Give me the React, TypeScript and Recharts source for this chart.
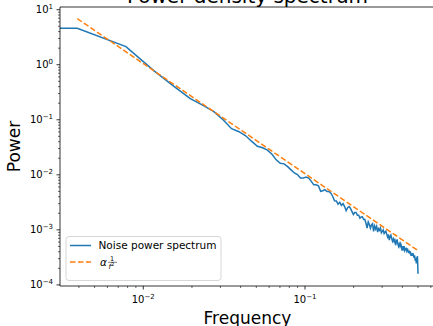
import React from "react";
import { LineChart, Line, XAxis, YAxis, ReferenceLine } from "recharts";

const FONT = "'DejaVu Sans', sans-serif";
const BLUE = "#1f77b4";
const ORANGE = "#ff7f0e";

// FFT bins k/256 (k = 1..128). The DC bin (f = 0) has no place on a log axis;
// matplotlib clips it far off to the left, a tiny stand-in frequency does the same here.
const DC_FREQ = 1e-4;
const binIndex = Array.from({ length: 128 }, (_, i) => i + 1);
const spectrumFreq = [DC_FREQ, ...binIndex.map((k) => k / 256)];
const spectrumPower = [
  4.59, 4.59, 2.13, 0.765, 0.396, 0.243, 0.183, 0.14, 0.0989, 0.0689,
  0.0607, 0.0512, 0.0404, 0.033, 0.031, 0.0281, 0.0237, 0.0187, 0.0162, 0.0158,
  0.0141, 0.0123, 0.0108, 0.0101, 0.00874, 0.00871, 0.00909, 0.00872, 0.00759, 0.00658,
  0.00658, 0.00632, 0.00501, 0.00513, 0.00536, 0.00496, 0.00499, 0.00463, 0.00404, 0.00337,
  0.00335, 0.00293, 0.00316, 0.00278, 0.003, 0.00265, 0.00223, 0.00253, 0.00264, 0.00243,
  0.00214, 0.0019, 0.00206, 0.00207, 0.00184, 0.00184, 0.00163, 0.00172, 0.00173, 0.00154,
  0.00155, 0.00132, 0.00108, 0.0014, 0.00125, 0.00107, 0.00123, 0.00129, 0.000942, 0.00118,
  0.00104, 0.00116, 0.000912, 0.00105, 0.00098, 0.00108, 0.000888, 0.000941, 0.000997, 0.000856,
  0.000914, 0.000946, 0.000827, 0.000745, 0.000825, 0.000653, 0.000754, 0.000802, 0.000692, 0.000622,
  0.000689, 0.00062, 0.000688, 0.000525, 0.000606, 0.000672, 0.000557, 0.000501, 0.000557, 0.000503,
  0.000558, 0.000504, 0.000418, 0.000505, 0.000455, 0.000506, 0.00042, 0.000448, 0.000459, 0.000415,
  0.000461, 0.000416, 0.000377, 0.000419, 0.000379, 0.000388, 0.000337, 0.000375, 0.000339, 0.000378,
  0.000342, 0.00031, 0.000345, 0.000276, 0.000307, 0.000245, 0.00031, 0.000332, 0.00016,
];

// alpha / f^2 reference: a straight line in log-log, so its two ends are enough
const fitFreq = [1 / 256, 0.5];
const fitPower = [6.88, 0.00042];

const xMajor = [0.01, 0.1];
const yMajor = [1e-4, 1e-3, 1e-2, 1e-1, 1, 10];
const mantissas = [2, 3, 4, 5, 6, 7, 8, 9];

const xDomain = [0.003055, 0.6368];
const yDomain = [9.55e-5, 11.19];

const inside = (v: number, d: number[]) => v >= d[0] && v <= d[1];
const minorsFor = (decades: number[], d: number[]) =>
  decades.flatMap((dec) => mantissas.map((m) => m * dec)).filter((v) => inside(v, d));

const xTicks = [...xMajor, ...minorsFor([1e-3, 1e-2, 1e-1], xDomain)].sort((a, b) => a - b);
const yTicks = [...yMajor, ...minorsFor([1e-5, 1e-4, 1e-3, 1e-2, 1e-1, 1], yDomain)].sort((a, b) => a - b);

const spectrum = spectrumFreq.map((f, i) => ({ f, p: spectrumPower[i] }));
const fit = fitFreq.map((f, i) => ({ f, p: fitPower[i] }));

const isMajor = (v: number) => Math.abs(Math.log10(v) - Math.round(Math.log10(v))) < 1e-6;
const expText = (v: number) => String(Math.round(Math.log10(v))).replace("-", "\u2212");

const XTick = ({ x, y, payload }: any) => {
  const v = payload.value;
  const major = isMajor(v);
  return (
    <g>
      <line x1={x} x2={x} y1={y} y2={y + (major ? 3.5 : 2)} stroke="#000" strokeWidth={major ? 0.8 : 0.6} />
      {major && (
        <text x={x} y={y + 17} textAnchor="middle" fontSize={10} fontFamily={FONT} fill="#000">
          10<tspan dy={-4} fontSize={7}>{expText(v)}</tspan>
        </text>
      )}
    </g>
  );
};

const YTick = ({ x, y, payload }: any) => {
  const v = payload.value;
  const major = isMajor(v);
  return (
    <g>
      <line x1={x - (major ? 3.5 : 2)} x2={x} y1={y} y2={y} stroke="#000" strokeWidth={major ? 0.8 : 0.6} />
      {major && (
        <text x={x - 7} y={y + 3.6} textAnchor="end" fontSize={10} fontFamily={FONT} fill="#000">
          10<tspan dy={-4.3} fontSize={7}>{expText(v)}</tspan>
        </text>
      )}
    </g>
  );
};

export default function App() {
  return (
    <div style={{ position: "absolute", left: 0, top: 0, width: 433, height: 326, overflow: "hidden", background: "#fff" }}>
      <LineChart width={440} height={326} margin={{ top: 7, right: 5, bottom: 0, left: 0 }}>
        <XAxis
          dataKey="f"
          type="number"
          scale="log"
          domain={xDomain}
          allowDataOverflow
          ticks={xTicks}
          interval={0}
          tick={(props: any) => <XTick {...props} />}
          tickLine={false}
          tickSize={0}
          tickMargin={0}
          height={40}
          axisLine={{ stroke: "#000", strokeWidth: 0.8 }}
        />
        <YAxis
          dataKey="p"
          type="number"
          scale="log"
          domain={yDomain}
          allowDataOverflow
          ticks={yTicks}
          interval={0}
          tick={(props: any) => <YTick {...props} />}
          tickLine={false}
          tickSize={0}
          tickMargin={0}
          width={60}
          axisLine={{ stroke: "#000", strokeWidth: 0.8 }}
        />
        <ReferenceLine y={yDomain[1]} stroke="#000" strokeWidth={0.8} />
        <Line
          data={spectrum}
          dataKey="p"
          type="linear"
          stroke={BLUE}
          strokeWidth={1.5}
          dot={false}
          isAnimationActive={false}
        />
        <Line
          data={fit}
          dataKey="p"
          type="linear"
          stroke={ORANGE}
          strokeWidth={1.5}
          strokeDasharray="5.55 2.4"
          dot={false}
          isAnimationActive={false}
        />
      </LineChart>
      <svg width={433} height={326} style={{ position: "absolute", left: 0, top: 0, pointerEvents: "none" }} fontFamily={FONT}>
        <text x={247.5} y={3} textAnchor="middle" fontSize={20} fill="#000">Power density spectrum</text>
        <text x={247.5} y={324} textAnchor="middle" fontSize={17} fill="#000">Frequency</text>
        <text transform="rotate(-90)" x={-146.5} y={20} textAnchor="middle" fontSize={17} fill="#000">Power</text>
        <g>
          <rect x={66} y={236.5} width={155} height={44} rx={3} fill="#fff" fillOpacity={0.8} stroke="#cccccc" strokeWidth={0.8} />
          <line x1={70} x2={91} y1={245.5} y2={245.5} stroke={BLUE} strokeWidth={1.5} />
          <text x={98.5} y={249.2} fontSize={10.5} fill="#000">Noise power spectrum</text>
          <line x1={70} x2={91} y1={262} y2={262} stroke={ORANGE} strokeWidth={1.5} strokeDasharray="5.55 2.4" />
          <text x={100} y={266} fontSize={10.5} fontStyle="italic" fill="#000">α</text>
          <text x={112} y={260.5} fontSize={6.5} textAnchor="middle" fill="#000">1</text>
          <line x1={108} x2={117} y1={262.3} y2={262.3} stroke="#000" strokeWidth={0.5} />
          <text x={108.5} y={268.5} fontSize={7} fontStyle="italic" fill="#000">
            f<tspan dy={-2.5} fontSize={5} fontStyle="normal">2</tspan>
          </text>
        </g>
      </svg>
    </div>
  );
}
